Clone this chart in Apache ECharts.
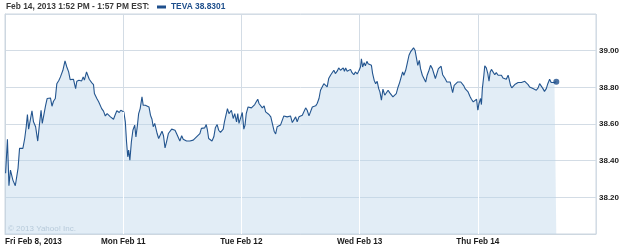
<!DOCTYPE html>
<html><head><meta charset="utf-8">
<script src="https://cdn.jsdelivr.net/npm/echarts@6/dist/echarts.min.js"></script>
<style>html,body{margin:0;padding:0;background:#fff}#c{width:625px;height:247px}</style>
</head><body><div id="c"></div>
<script>
// trading minutes since Fri Feb 8 2013 09:30 (390 minutes per session)
const minutes = [
2,8,13,18,23,26,34,43,48,54,59,65,70,74,78,83,89,94,98,101,108,114,119,123,128,134,139,145,150,155,160,166,171,178,183,191,198,204,210,215,221,226,233,237,244,249,253,258,262,269,273,278,282,286,292,295,303,309,314,319,325,331,337,342,348,352,358,363,369,
373,377,382,386,392,397,401,405,408,412,417,422,428,432,437,441,446,452,456,463,469,475,480,485,489,494,498,502,507,512,518,523,528,533,539,544,550,555,561,566,572,577,583,588,593,599,604,610,615,621,626,632,637,643,648,654,659,664,668,672,678,683,689,694,700,705,711,715,720,724,730,734,739,
742,747,753,758,764,768,772,777,783,788,792,796,802,807,813,818,824,829,834,838,844,849,855,860,866,871,877,882,888,893,898,904,909,915,920,926,931,937,942,948,953,959,964,970,975,981,986,992,997,1003,1008,1014,1019,1025,1030,1036,1041,1047,1052,1058,1063,1068,1074,1079,1085,1090,1096,1101,1107,
1110,1116,1120,1124,1129,1134,1140,1145,1151,1156,1162,1167,1173,1176,1180,1185,1189,1194,1198,1203,1209,1213,1218,1223,1228,1233,1237,1242,1247,1253,1258,1264,1269,1275,1280,1286,1291,1297,1302,1308,1312,1316,1322,1327,1333,1338,1344,1348,1353,1357,1362,1367,1371,1377,1382,1388,1393,1399,1404,1410,1414,1420,1425,1430,1435,1439,1444,1448,1452,1458,1463,1469,1473,1477,
1482,1488,1493,1499,1504,1510,1514,1518,1523,1528,1534,1539,1545,1550,1556,1560,1564,1569,1572,1575,1580,1583,1588,1593,1597,1601,1605,1610,1616,1621,1627,1632,1638,1643,1649,1654,1660,1663,1668,1672,1676,1682,1687,1693,1698,1704,1709,1715,1720,1726,1731,1737,1742,1748,1753,1759,1764,1770,1775,1780,1786,1791,1797,1802,1808,1813,1819
];
const prices = [
38.331,38.517,38.263,38.349,38.340,38.294,38.263,38.358,38.467,38.458,38.467,38.521,38.585,38.652,38.572,38.566,38.672,38.612,38.621,38.585,38.507,38.603,38.675,38.603,38.606,38.702,38.739,38.748,38.742,38.697,38.724,38.739,38.820,38.839,38.857,38.893,38.944,38.911,38.884,38.842,38.839,38.844,38.793,38.833,38.839,38.848,38.835,38.857,38.839,38.884,38.875,38.844,38.851,38.826,38.815,38.766,38.739,38.721,38.712,38.684,38.670,38.644,38.657,38.652,38.639,38.644,38.626,38.648,38.672,
38.675,38.663,38.675,38.679,38.666,38.612,38.503,38.421,38.458,38.403,38.503,38.566,38.594,38.530,38.594,38.657,38.684,38.748,38.702,38.702,38.699,38.693,38.648,38.626,38.585,38.603,38.594,38.548,38.521,38.517,38.561,38.536,38.470,38.503,38.548,38.557,38.572,38.579,38.566,38.548,38.539,38.507,38.536,38.517,38.512,38.507,38.508,38.507,38.503,38.512,38.521,38.530,38.539,38.548,38.576,38.566,38.579,38.597,38.566,38.521,38.516,38.507,38.530,38.579,38.597,38.566,38.554,38.557,38.572,38.612,38.603,38.684,38.657,
38.657,38.675,38.630,38.657,38.612,38.657,38.603,38.597,38.663,38.572,38.594,38.657,38.693,38.702,38.688,38.693,38.706,38.721,38.735,38.712,38.721,38.688,38.699,38.666,38.675,38.652,38.639,38.603,38.561,38.546,38.585,38.576,38.594,38.621,38.644,38.648,38.639,38.644,38.644,38.608,38.615,38.639,38.612,38.639,38.644,38.648,38.652,38.688,38.675,38.644,38.639,38.693,38.702,38.699,38.712,38.739,38.784,38.793,38.820,38.829,38.802,38.848,38.866,38.875,38.893,38.875,38.888,38.906,38.893,
38.884,38.906,38.888,38.906,38.888,38.880,38.898,38.880,38.869,38.884,38.873,38.888,38.911,38.956,38.911,38.935,38.917,38.942,38.929,38.933,38.920,38.875,38.839,38.820,38.833,38.793,38.775,38.730,38.790,38.757,38.766,38.784,38.771,38.766,38.748,38.742,38.766,38.802,38.826,38.829,38.884,38.866,38.893,38.929,38.975,38.993,38.996,39.015,39.002,39.011,38.920,38.947,38.902,38.866,38.857,38.829,38.866,38.893,38.920,38.902,38.893,38.848,38.875,38.902,38.893,38.915,38.869,38.866,38.848,38.829,38.839,38.829,38.820,38.771,
38.811,38.820,38.829,38.826,38.829,38.826,38.808,38.793,38.793,38.775,38.751,38.735,38.721,38.724,38.735,38.675,38.712,38.739,38.706,38.793,38.866,38.917,38.906,38.875,38.833,38.884,38.898,38.893,38.869,38.880,38.866,38.857,38.866,38.851,38.857,38.844,38.866,38.848,38.811,38.797,38.802,38.815,38.820,38.826,38.829,38.826,38.829,38.833,38.829,38.815,38.802,38.797,38.793,38.790,38.784,38.797,38.820,38.826,38.793,38.778,38.793,38.820,38.844,38.826,38.833,38.826,38.8301
];
const dayStarts = [0, 390, 780, 1170, 1560];
const dayLabels = ['Fri Feb 8, 2013', 'Mon Feb 11', 'Tue Feb 12', 'Wed Feb 13', 'Thu Feb 14'];
const weekMinutes = 1950;
const yMin = 38.0, yMax = 39.2, yStep = 0.2;
const tickerName = 'TEVA';
const headerText = 'Feb 14, 2013 1:52 PM - 1:57 PM EST:';
const copyrightText = '\u00a9 2013 Yahoo! Inc.';

const FONT = '"Liberation Sans", Arial, sans-serif';
const lineColor = '#23558f';
const data = minutes.map((m, i) => [m, prices[i]]);
const last = data[data.length - 1];

function lowAt(t) {
  for (let i = 0; i < minutes.length - 1; i++) {
    if (minutes[i] <= t && minutes[i + 1] >= t) return Math.min(prices[i], prices[i + 1]);
  }
  return yMin;
}
const dividers = dayStarts.slice(1).map(d => [{ coord: [d, yMin] }, { coord: [d, lowAt(d)] }]);

const chart = echarts.init(document.getElementById('c'), null, { renderer: 'canvas' });
chart.setOption({
  animation: false,
  backgroundColor: '#fff',
  textStyle: { fontFamily: FONT },
  title: {
    text: headerText, left: 6, top: 3, padding: 0,
    textStyle: { fontSize: 8.4, fontWeight: 'bold', color: '#3a3a3a', fontFamily: FONT }
  },
  legend: {
    data: [tickerName], left: 157, top: 3, padding: 0,
    icon: 'rect', itemWidth: 9, itemHeight: 3, itemGap: 5,
    formatter: n => n + ' ' + last[1].toFixed(4),
    textStyle: { fontSize: 8.4, fontWeight: 'bold', color: '#1e4f8c', fontFamily: FONT }
  },
  graphic: [{
    type: 'text', left: 8, top: 225, silent: true,
    style: { text: copyrightText, fontSize: 8, fill: '#b5c3cf', fontFamily: FONT }
  }],
  grid: { left: 5, right: 29, top: 14, bottom: 13, show: true, borderColor: '#cdd7e0', borderWidth: 1 },
  xAxis: {
    type: 'value', min: 0, max: weekMinutes, interval: 390,
    axisLine: { show: true, lineStyle: { color: '#cdd7e0' } },
    axisTick: { show: false },
    splitLine: { show: true, lineStyle: { color: '#d3dce5', width: 1 } },
    axisLabel: {
      showMaxLabel: false, alignMinLabel: 'left', margin: 4,
      fontSize: 8.2, fontWeight: 'bold', color: '#1a1a1a', fontFamily: FONT,
      formatter: v => { const k = dayStarts.indexOf(v); return k >= 0 ? dayLabels[k] : ''; }
    }
  },
  yAxis: {
    type: 'value', position: 'right', min: yMin, max: yMax, interval: yStep,
    axisLine: { show: true, lineStyle: { color: '#cdd7e0' } },
    axisTick: { show: false },
    splitLine: { show: true, lineStyle: { color: '#d3dce5', width: 1 } },
    axisLabel: {
      showMinLabel: false, showMaxLabel: false, margin: 3,
      fontSize: 8, fontWeight: 'bold', color: '#1a1a1a', fontFamily: FONT,
      formatter: v => v.toFixed(2)
    }
  },
  series: [{
    name: tickerName, type: 'line', data: data, showSymbol: false, z: 2,
    itemStyle: { color: '#1e4f8c' },
    lineStyle: { color: lineColor, width: 1.1 },
    areaStyle: { color: 'rgba(187,213,233,0.6)', origin: 'start' },
    markLine: {
      silent: true, symbol: 'none', label: { show: false },
      lineStyle: { color: '#ffffff', width: 1, type: 'solid' },
      data: dividers
    }
  }, {
    name: 'last', type: 'scatter', data: [last], symbolSize: 6, z: 4,
    itemStyle: { color: '#1e4f8c' }, silent: true
  }]
});
</script></body></html>
